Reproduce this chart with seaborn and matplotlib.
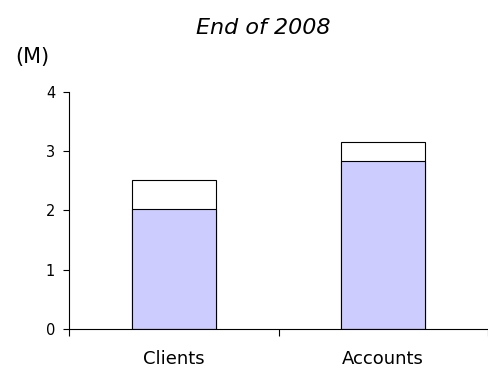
import matplotlib
matplotlib.use("Agg")
import matplotlib.pyplot as plt
import seaborn as sns
import pandas as pd

categories = ["Clients", "Accounts"]
base_values = [2.03, 2.84]
total_values = [2.52, 3.16]
y_ticks = [0, 1, 2, 3, 4]

sns.set_theme(style="white")
plt.rcParams["font.family"] = ["DejaVu Sans"]
plt.rcParams["text.color"] = "black"
plt.rcParams["xtick.color"] = "black"
plt.rcParams["ytick.color"] = "black"

df = pd.DataFrame({"category": categories, "base": base_values, "total": total_values})

fig = plt.figure(figsize=(4.88, 3.75), dpi=100)
ax = fig.add_axes([0.1414, 0.1227, 0.8586, 0.632])

# full height first (white cap), then the base part over it
sns.barplot(data=df, x="category", y="total", color="white", edgecolor="black",
            linewidth=0.8, width=0.4, saturation=1, ax=ax)
sns.barplot(data=df, x="category", y="base", color="#CCCCFF", edgecolor="black",
            linewidth=0.8, width=0.4, saturation=1, ax=ax)

ax.set_xlim(-0.5, 1.5)
ax.set_ylim(0, 4)
ax.set_yticks(y_ticks)
ax.set_xlabel("")
ax.set_ylabel("")

for side in ("top", "right"):
    ax.spines[side].set_visible(False)
for side in ("left", "bottom"):
    ax.spines[side].set_color("black")
    ax.spines[side].set_linewidth(0.8)

ax.tick_params(axis="y", direction="out", length=4, width=0.8, colors="black",
               labelsize=10.5, pad=6, left=True)
ax.tick_params(axis="x", which="major", length=0, labelsize=13, pad=15,
               labelcolor="black")
ax.set_xticks([-0.5, 0.5, 1.5], minor=True)
ax.tick_params(axis="x", which="minor", direction="out", length=5, width=0.8,
               color="black", bottom=True)

fig.text(263 / 488, 1 - 28 / 375, "End of 2008", ha="center", va="center",
         fontsize=16, style="italic", color="black")
fig.text(15 / 488, 1 - 57 / 375, "(M)", ha="left", va="center", fontsize=15,
         color="black")

fig.savefig("out.png", dpi=100, facecolor="white")
